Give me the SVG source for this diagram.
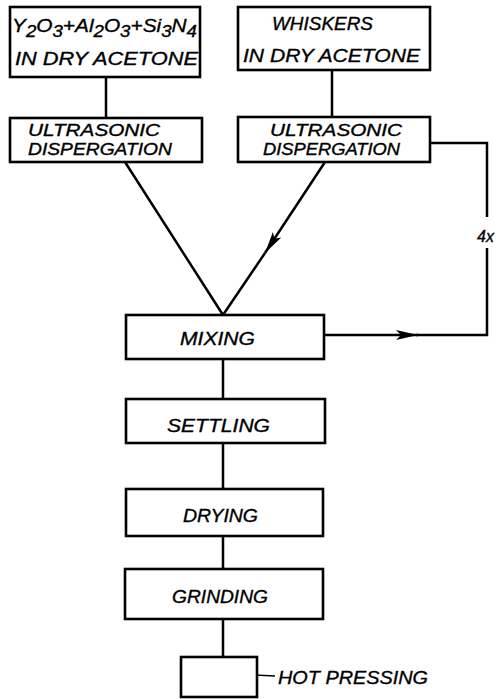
<svg xmlns="http://www.w3.org/2000/svg" width="496" height="699" viewBox="0 0 496 699">
<style>
.box{fill:#fff;stroke:#000;stroke-width:2.6}
.ln{fill:none;stroke:#000;stroke-width:2.5;stroke-linejoin:miter}
.thin{fill:none;stroke:#000;stroke-width:1.5}
text{font-family:"Liberation Sans",Arial,sans-serif;font-style:italic;font-size:19px;fill:#000;stroke:#000;stroke-width:0.35}
.sub{font-size:17px}
.two{font-size:16.5px}
</style>
<defs>
<marker id="ah" markerUnits="userSpaceOnUse" markerWidth="24" markerHeight="12" refX="22" refY="6" orient="auto">
<path d="M0,1 L22,6 L0,11 L5,6 z" fill="#000"/>
</marker>
</defs>
<g id="connectors">
<path class="ln" d="M106,77 V118"/>
<path class="ln" d="M332,70 V117"/>
<path class="ln" d="M125,162 L223,315"/>
<path class="ln" d="M325,162 L265,253" marker-end="url(#ah)"/>
<path class="ln" d="M265,253 L223,315"/>
<path class="ln" d="M430,143 H487 V217"/>
<path class="ln" d="M324,335 H418" marker-end="url(#ah)"/>
<path class="ln" d="M416,335 H487 V248"/>
<path class="ln" d="M223,359 V399"/>
<path class="ln" d="M223,443 V489"/>
<path class="ln" d="M223,536 V569"/>
<path class="ln" d="M223,619 V657"/>
<path class="thin" d="M234,674 L275,676"/>
<text x="477" y="242" style="font-size:16px">4x</text>
</g>
<g id="n-powders">
<rect class="box" x="10" y="7" width="190" height="70"/>
<text x="12" y="32" textLength="185" lengthAdjust="spacingAndGlyphs">Y<tspan class="sub" dy="5">2</tspan><tspan dy="-5">O</tspan><tspan class="sub" dy="5">3</tspan><tspan dy="-5">+Al</tspan><tspan class="sub" dy="5">2</tspan><tspan dy="-5">O</tspan><tspan class="sub" dy="5">3</tspan><tspan dy="-5">+Si</tspan><tspan class="sub" dy="5">3</tspan><tspan dy="-5">N</tspan><tspan class="sub" dy="5">4</tspan></text>
<text x="15" y="65" textLength="183" lengthAdjust="spacingAndGlyphs">IN DRY ACETONE</text>
</g>
<g id="n-whiskers">
<rect class="box" x="238" y="7" width="192" height="63"/>
<text x="272" y="30" textLength="101" lengthAdjust="spacingAndGlyphs">WHISKERS</text>
<text x="243" y="62" textLength="177" lengthAdjust="spacingAndGlyphs">IN DRY ACETONE</text>
</g>
<g id="n-ultra1">
<rect class="box" x="10" y="118" width="192" height="44"/>
<text class="two" x="28" y="136" textLength="132" lengthAdjust="spacingAndGlyphs">ULTRASONIC</text>
<text class="two" x="28" y="155" textLength="144" lengthAdjust="spacingAndGlyphs">DISPERGATION</text>
</g>
<g id="n-ultra2">
<rect class="box" x="238" y="117" width="192" height="45"/>
<text class="two" x="270" y="136" textLength="132" lengthAdjust="spacingAndGlyphs">ULTRASONIC</text>
<text class="two" x="263" y="155" textLength="137" lengthAdjust="spacingAndGlyphs">DISPERGATION</text>
</g>
<g id="n-mixing">
<rect class="box" x="126" y="315" width="198" height="44"/>
<text x="180" y="345" textLength="75" lengthAdjust="spacingAndGlyphs">MIXING</text>
</g>
<g id="n-settling">
<rect class="box" x="126" y="399" width="199" height="44"/>
<text x="167" y="432" textLength="103" lengthAdjust="spacingAndGlyphs">SETTLING</text>
</g>
<g id="n-drying">
<rect class="box" x="126" y="489" width="197" height="47"/>
<text x="183" y="522" textLength="75" lengthAdjust="spacingAndGlyphs">DRYING</text>
</g>
<g id="n-grinding">
<rect class="box" x="125" y="569" width="198" height="50"/>
<text x="172" y="603" textLength="96" lengthAdjust="spacingAndGlyphs">GRINDING</text>
</g>
<g id="n-hotpressing">
<rect class="box" x="181" y="657" width="76" height="40"/>
<text x="278" y="684" textLength="150" lengthAdjust="spacingAndGlyphs">HOT  PRESSING</text>
</g>
</svg>
